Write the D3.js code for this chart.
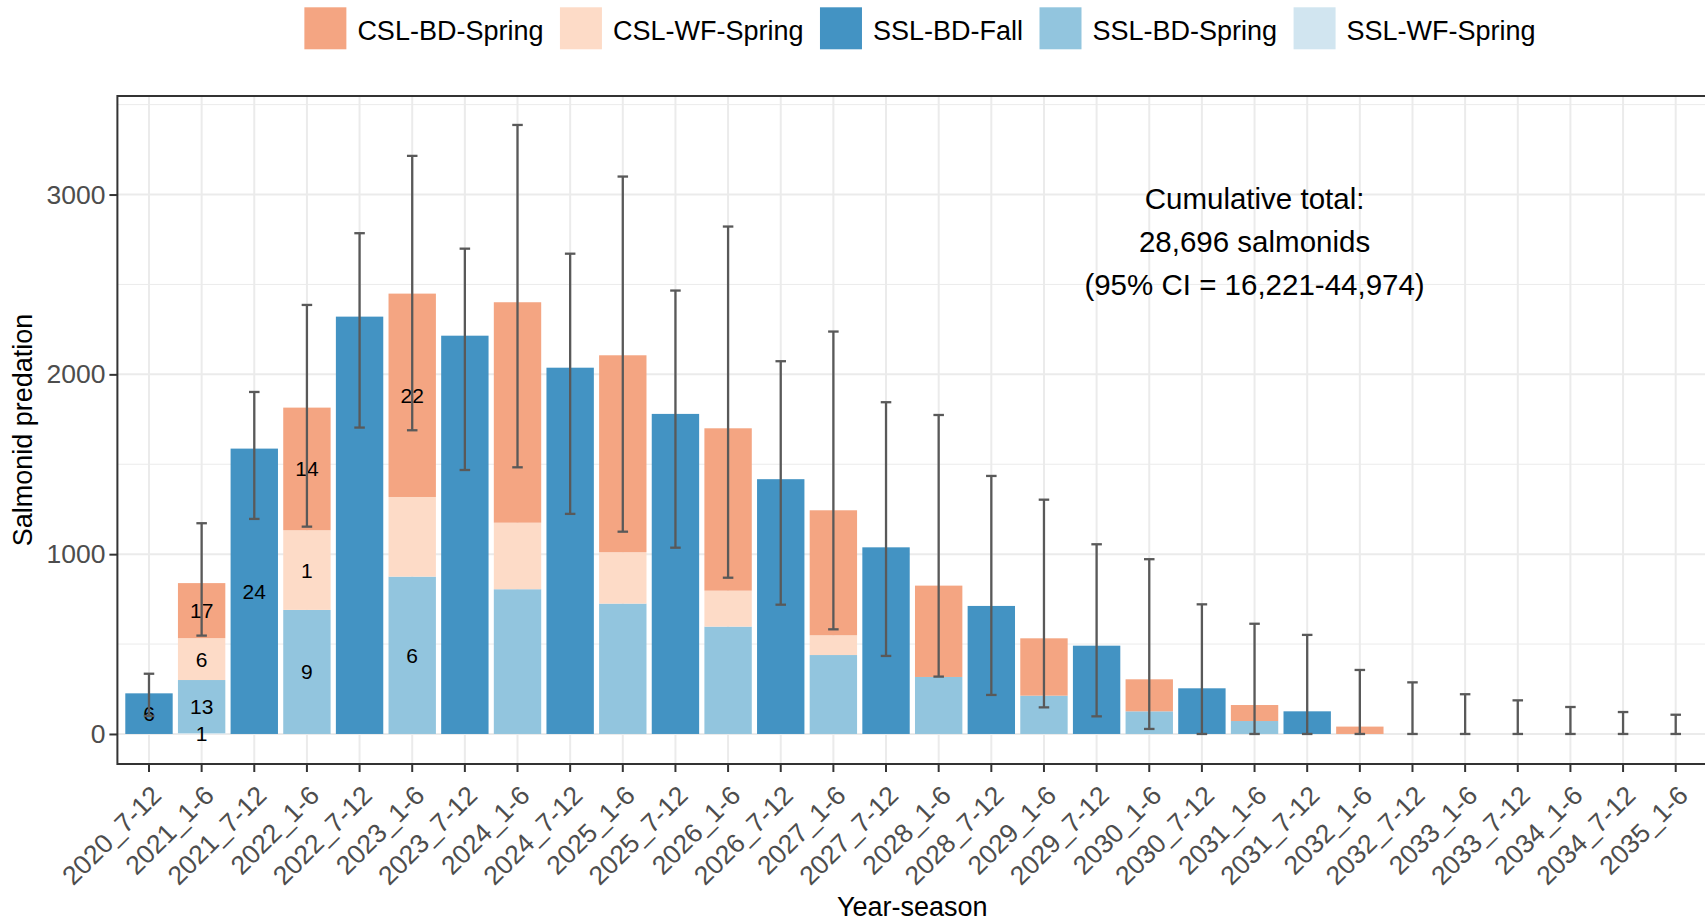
<!DOCTYPE html>
<html>
<head>
<meta charset="utf-8">
<script src="https://cdn.jsdelivr.net/npm/d3@7"></script>
<style>
  html, body { margin: 0; padding: 0; background: #fff; }
  svg { display: block; font-family: "Liberation Sans", Arial, sans-serif; }
</style>
</head>
<body>
<div id="chart"></div>
<script>
// categories (year_season)
const categories = [
    '2020_7-12', '2021_1-6', '2021_7-12', '2022_1-6', '2022_7-12', '2023_1-6',
    '2023_7-12', '2024_1-6', '2024_7-12', '2025_1-6', '2025_7-12', '2026_1-6',
    '2026_7-12', '2027_1-6', '2027_7-12', '2028_1-6', '2028_7-12', '2029_1-6',
    '2029_7-12', '2030_1-6', '2030_7-12', '2031_1-6', '2031_7-12', '2032_1-6',
    '2032_7-12', '2033_1-6', '2033_7-12', '2034_1-6', '2034_7-12', '2035_1-6'
];

// series values, one per category
const cslBdSpring = [0, 306, 0, 682, 0, 1131, 0, 1226, 0, 1095, 0, 903, 0, 695, 0, 508, 0, 319, 0, 178, 0, 89, 0, 41, 0, 0, 0, 0, 0, 0];
const cslWfSpring = [0, 233, 0, 443, 0, 443, 0, 370, 0, 286, 0, 200, 0, 110, 0, 0, 0, 0, 0, 0, 0, 0, 0, 0, 0, 0, 0, 0, 0, 0];
const sslBdFall   = [226, 0, 1587, 0, 2321, 0, 2215, 0, 2037, 0, 1780, 0, 1417, 0, 1038, 0, 712, 0, 491, 0, 254, 0, 126, 0, 0, 0, 0, 0, 0, 0];
const sslBdSpring = [0, 295, 0, 690, 0, 875, 0, 805, 0, 725, 0, 597, 0, 439, 0, 317, 0, 213, 0, 126, 0, 72, 0, 0, 0, 0, 0, 0, 0, 0];
const sslWfSpring = [0, 5, 0, 0, 0, 0, 0, 0, 0, 0, 0, 0, 0, 0, 0, 0, 0, 0, 0, 0, 0, 0, 0, 0, 0, 0, 0, 0, 0, 0];

// 95% CI of the total
const ciLower = [100, 547, 1196, 1153, 1704, 1689, 1468, 1483, 1224, 1125, 1036, 869, 719, 582, 434, 319, 217, 148, 98, 28, 0, 0, 0, 0, 0, 0, 0, 0, 0, 0];
const ciUpper = [335, 1172, 1902, 2386, 2785, 3215, 2699, 3387, 2671, 3100, 2466, 2822, 2073, 2238, 1845, 1774, 1435, 1303, 1055, 972, 721, 613, 551, 356, 287, 221, 187, 150, 122, 107];

// counts printed inside segments: [category, series, text]
const segmentLabels = [
    ['2020_7-12', 'SSL-BD-Fall', '6'],
    ['2021_1-6', 'SSL-WF-Spring', '1'],
    ['2021_1-6', 'SSL-BD-Spring', '13'],
    ['2021_1-6', 'CSL-WF-Spring', '6'],
    ['2021_1-6', 'CSL-BD-Spring', '17'],
    ['2021_7-12', 'SSL-BD-Fall', '24'],
    ['2022_1-6', 'SSL-BD-Spring', '9'],
    ['2022_1-6', 'CSL-WF-Spring', '1'],
    ['2022_1-6', 'CSL-BD-Spring', '14'],
    ['2023_1-6', 'SSL-BD-Spring', '6'],
    ['2023_1-6', 'CSL-BD-Spring', '22']
];

const legendOrder = ['CSL-BD-Spring', 'CSL-WF-Spring', 'SSL-BD-Fall', 'SSL-BD-Spring', 'SSL-WF-Spring'];
const stackOrder = ['SSL-WF-Spring', 'SSL-BD-Spring', 'SSL-BD-Fall', 'CSL-WF-Spring', 'CSL-BD-Spring'];
const seriesColors = ['#f4a582', '#fddbc7', '#4393c3', '#92c5de', '#d1e5f0'];

const yTicks = [0, 1000, 2000, 3000];
const yMinor = [500, 1500, 2500, 3500];
const annotationLines = ['Cumulative total:', '28,696 salmonids', '(95% CI = 16,221-44,974)'];

const width = 1705, height = 923;
const panel = { left: 117.4, right: 1707.3, top: 96, bottom: 764 };

const seriesValues = {
    'CSL-BD-Spring': cslBdSpring,
    'CSL-WF-Spring': cslWfSpring,
    'SSL-BD-Fall': sslBdFall,
    'SSL-BD-Spring': sslBdSpring,
    'SSL-WF-Spring': sslWfSpring
};

const rows = categories.map((c, i) => {
    const row = { category: c, lower: ciLower[i], upper: ciUpper[i] };
    stackOrder.forEach(k => { row[k] = seriesValues[k][i]; });
    return row;
});

const x = d3.scaleBand()
    .domain(categories)
    .range([panel.left, panel.right])
    .paddingInner(0.1)
    .paddingOuter(0.15);

const y = d3.scaleLinear()
    .domain([-167, 3548])
    .range([panel.bottom, panel.top]);

const color = d3.scaleOrdinal().domain(legendOrder).range(seriesColors);

const svg = d3.select('#chart').append('svg')
    .attr('width', width)
    .attr('height', height);

const cx = c => x(c) + x.bandwidth() / 2;

// grid
const grid = svg.append('g');
grid.selectAll('.minor').data(yMinor).enter().append('line')
    .attr('x1', panel.left).attr('x2', panel.right)
    .attr('y1', d => y(d)).attr('y2', d => y(d))
    .attr('stroke', '#ebebeb').attr('stroke-width', 1);
grid.selectAll('.major-y').data(yTicks).enter().append('line')
    .attr('x1', panel.left).attr('x2', panel.right)
    .attr('y1', d => y(d)).attr('y2', d => y(d))
    .attr('stroke', '#ebebeb').attr('stroke-width', 2);
grid.selectAll('.major-x').data(categories).enter().append('line')
    .attr('x1', d => cx(d)).attr('x2', d => cx(d))
    .attr('y1', panel.top).attr('y2', panel.bottom)
    .attr('stroke', '#ebebeb').attr('stroke-width', 2);

// stacked bars
const stacked = d3.stack().keys(stackOrder)(rows);
svg.append('g').selectAll('g')
    .data(stacked)
    .enter().append('g')
    .attr('fill', d => color(d.key))
    .selectAll('rect')
    .data(d => d)
    .enter().append('rect')
    .attr('x', d => x(d.data.category))
    .attr('width', x.bandwidth())
    .attr('y', d => y(d[1]))
    .attr('height', d => Math.max(0, y(d[0]) - y(d[1])));

// segment labels at the middle of their segment
const layerByKey = {};
stacked.forEach(layer => { layerByKey[layer.key] = layer; });
svg.append('g').selectAll('text')
    .data(segmentLabels)
    .enter().append('text')
    .attr('x', d => cx(d[0]))
    .attr('y', d => {
        const seg = layerByKey[d[1]][categories.indexOf(d[0])];
        return y((seg[0] + seg[1]) / 2);
    })
    .attr('dy', '0.36em')
    .attr('text-anchor', 'middle')
    .attr('font-size', 21)
    .attr('fill', '#000')
    .text(d => d[2]);

// error bars
const capHalf = x.step() * 0.1;
const err = svg.append('g').attr('stroke', '#595959').attr('stroke-width', 2.3);
rows.forEach(r => {
    const c = cx(r.category);
    err.append('line').attr('x1', c).attr('x2', c).attr('y1', y(r.lower)).attr('y2', y(r.upper));
    err.append('line').attr('x1', c - capHalf).attr('x2', c + capHalf).attr('y1', y(r.lower)).attr('y2', y(r.lower));
    err.append('line').attr('x1', c - capHalf).attr('x2', c + capHalf).attr('y1', y(r.upper)).attr('y2', y(r.upper));
});

// annotation
const note = svg.append('text')
    .attr('x', cx('2031_1-6'))
    .attr('text-anchor', 'middle')
    .attr('font-size', 29.5)
    .attr('fill', '#000');
annotationLines.forEach((t, i) => {
    note.append('tspan').attr('x', cx('2031_1-6')).attr('y', 209 + i * 43).text(t);
});

// panel border
svg.append('rect')
    .attr('x', panel.left).attr('y', panel.top)
    .attr('width', panel.right - panel.left).attr('height', panel.bottom - panel.top)
    .attr('fill', 'none').attr('stroke', '#333').attr('stroke-width', 2);

// y axis
const yAxis = svg.append('g')
    .attr('transform', `translate(${panel.left},0)`)
    .call(d3.axisLeft(y).tickValues(yTicks).tickSize(8).tickPadding(4).tickFormat(d3.format('d')));
yAxis.select('.domain').remove();
yAxis.selectAll('line').attr('stroke', '#333').attr('stroke-width', 2);
yAxis.selectAll('text').attr('font-size', 26.5).attr('fill', '#4d4d4d')
    .attr('font-family', '"Liberation Sans", Arial, sans-serif');

// x axis
const xAxis = svg.append('g')
    .attr('transform', `translate(0,${panel.bottom})`)
    .call(d3.axisBottom(x).tickSize(8).tickSizeOuter(0));
xAxis.select('.domain').remove();
xAxis.selectAll('line').attr('stroke', '#333').attr('stroke-width', 2);
xAxis.selectAll('text')
    .attr('font-size', 26.5).attr('fill', '#4d4d4d')
    .attr('font-family', '"Liberation Sans", Arial, sans-serif')
    .attr('text-anchor', 'end')
    .attr('y', 0).attr('dy', 0)
    .attr('transform', 'translate(14,33) rotate(-45)');

// axis titles
svg.append('text')
    .attr('x', (panel.left + panel.right) / 2)
    .attr('y', 916)
    .attr('text-anchor', 'middle')
    .attr('font-size', 27)
    .text('Year-season');

svg.append('text')
    .attr('transform', `translate(32,${(panel.top + panel.bottom) / 2}) rotate(-90)`)
    .attr('text-anchor', 'middle')
    .attr('font-size', 27)
    .text('Salmonid predation');

// legend on top
const legend = svg.append('g');
const keySize = 42;
let lx = 0;
legendOrder.forEach(name => {
    const item = legend.append('g').attr('transform', `translate(${lx},0)`);
    item.append('rect')
        .attr('x', 0).attr('y', 7.3)
        .attr('width', keySize).attr('height', keySize)
        .attr('fill', color(name));
    const t = item.append('text')
        .attr('x', keySize + 11).attr('y', 40)
        .attr('font-size', 27)
        .text(name);
    lx += keySize + 11 + t.node().getComputedTextLength() + 16.5;
});
const legendWidth = lx - 16.5;
legend.attr('transform', `translate(${920 - legendWidth / 2},0)`);
</script>
</body>
</html>
